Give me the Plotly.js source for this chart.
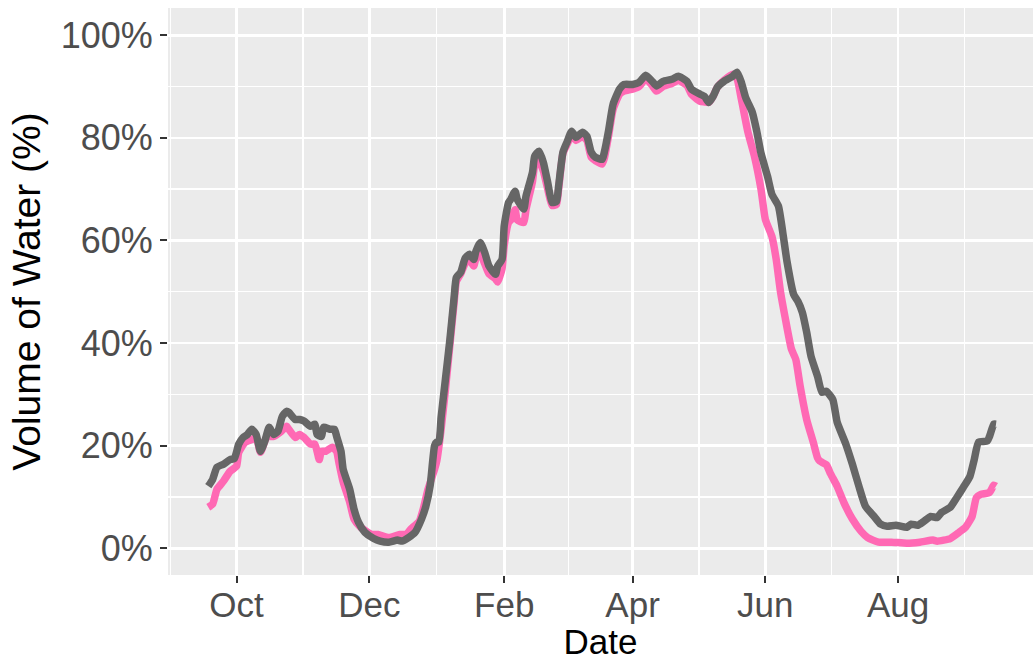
<!DOCTYPE html>
<html>
<head>
<meta charset="utf-8">
<script src="https://cdn.plot.ly/plotly-3.0.1.min.js"></script>
<style>
  html, body { margin: 0; padding: 0; background: #ffffff; }
  #chart { width: 1033px; height: 661px; }
</style>
</head>
<body>
<div id="chart"></div>
<script>
// ---- data ----
const greyDates = [
  '2020-09-18','2020-09-20','2020-09-22','2020-09-25','2020-09-28','2020-09-30','2020-10-02','2020-10-04','2020-10-06','2020-10-08',
  '2020-10-10','2020-10-12','2020-10-14','2020-10-16','2020-10-18','2020-10-20','2020-10-22','2020-10-24','2020-10-25','2020-10-28',
  '2020-10-30','2020-11-01','2020-11-04','2020-11-06','2020-11-07','2020-11-09','2020-11-10','2020-11-13','2020-11-15','2020-11-16',
  '2020-11-18','2020-11-19','2020-11-22','2020-11-24','2020-11-26','2020-11-29','2020-12-03','2020-12-06','2020-12-10','2020-12-14',
  '2020-12-16','2020-12-19','2020-12-22','2020-12-25','2020-12-27','2020-12-29','2020-12-31','2021-01-01','2021-01-02','2021-01-03',
  '2021-01-05','2021-01-07','2021-01-09','2021-01-10','2021-01-12','2021-01-14','2021-01-16','2021-01-18','2021-01-19','2021-01-21',
  '2021-01-23','2021-01-25','2021-01-28','2021-01-29','2021-01-31','2021-02-01','2021-02-03','2021-02-04','2021-02-06','2021-02-07',
  '2021-02-10','2021-02-11','2021-02-14','2021-02-15','2021-02-17','2021-02-19','2021-02-21','2021-02-23','2021-02-25','2021-02-26',
  '2021-02-28','2021-03-02','2021-03-04','2021-03-06','2021-03-09','2021-03-11','2021-03-13','2021-03-15','2021-03-18','2021-03-19',
  '2021-03-21','2021-03-23','2021-03-26','2021-03-28','2021-04-01','2021-04-04','2021-04-07','2021-04-10','2021-04-12','2021-04-15',
  '2021-04-19','2021-04-22','2021-04-26','2021-04-28','2021-05-02','2021-05-04','2021-05-06','2021-05-08','2021-05-10','2021-05-13',
  '2021-05-17','2021-05-19','2021-05-21','2021-05-23','2021-05-26','2021-05-28','2021-05-30','2021-06-02','2021-06-04','2021-06-07',
  '2021-06-09','2021-06-11','2021-06-14','2021-06-16','2021-06-18','2021-06-20','2021-06-22','2021-06-25','2021-06-27','2021-06-29',
  '2021-07-02','2021-07-04','2021-07-08','2021-07-11','2021-07-14','2021-07-17','2021-07-21','2021-07-24','2021-07-27','2021-07-31',
  '2021-08-05','2021-08-07','2021-08-10','2021-08-13','2021-08-16','2021-08-19','2021-08-21','2021-08-25','2021-08-28','2021-08-31',
  '2021-09-03','2021-09-05','2021-09-07','2021-09-11','2021-09-12','2021-09-14','2021-09-15'
];
const greyValues = [
  12.1,13.4,15.8,16.4,17.3,17.5,20.3,21.6,22.2,23.2,
  22.2,18.9,20.9,23.6,22.2,22.8,25.7,26.7,26.5,25.1,
  25.1,24.8,23.8,24.2,22.2,21.8,23.6,23.2,23.2,21.8,
  18.9,15.4,11.5,7.6,5.1,3.1,1.9,1.4,1.2,1.6,
  1.4,2.1,3.1,5.7,8.2,12.3,20.0,20.7,20.7,25.5,
  33.0,40.5,49.0,52.8,53.8,56.5,57.3,56.3,57.9,59.6,
  57.7,55.0,53.4,55.0,56.3,62.8,67.4,68.0,69.6,68.0,
  66.1,68.6,73.3,76.4,77.4,75.2,71.3,67.4,67.6,70.6,
  77.2,79.3,81.3,80.1,81.1,80.3,77.2,76.2,75.8,77.2,
  81.5,86.5,89.5,90.4,90.4,90.8,92.2,91.0,90.1,91.0,
  91.4,92.0,91.0,89.5,88.5,88.1,86.9,88.1,89.9,91.0,
  92.0,92.8,90.8,87.8,85.0,81.4,77.0,72.5,69.0,66.7,
  61.6,55.8,49.5,48.1,46.0,42.1,37.4,33.5,30.4,30.6,
  29.0,24.6,20.3,16.4,12.1,8.2,6.2,4.7,4.3,4.5,
  4.1,4.7,4.5,5.3,6.2,6.0,7.0,8.0,9.9,11.9,
  14.0,17.3,20.7,20.9,21.8,24.2,24.2
];

const pinkDates = [
  '2020-09-18','2020-09-20','2020-09-22','2020-09-25','2020-09-28','2020-10-01','2020-10-02','2020-10-05','2020-10-08','2020-10-10',
  '2020-10-12','2020-10-15','2020-10-18','2020-10-21','2020-10-24','2020-10-25','2020-10-28','2020-10-30','2020-11-01','2020-11-04',
  '2020-11-06','2020-11-08','2020-11-09','2020-11-11','2020-11-14','2020-11-16','2020-11-17','2020-11-19','2020-11-22','2020-11-24',
  '2020-11-27','2020-12-02','2020-12-05','2020-12-10','2020-12-15','2020-12-18','2020-12-20','2020-12-24','2020-12-26','2020-12-28',
  '2020-12-31','2021-01-01','2021-01-03','2021-01-05','2021-01-07','2021-01-09','2021-01-10','2021-01-12','2021-01-14','2021-01-16',
  '2021-01-18','2021-01-19','2021-01-21','2021-01-23','2021-01-25','2021-01-28','2021-01-29','2021-01-31','2021-02-01','2021-02-03',
  '2021-02-04','2021-02-06','2021-02-07','2021-02-10','2021-02-11','2021-02-14','2021-02-15','2021-02-17','2021-02-19','2021-02-21',
  '2021-02-23','2021-02-25','2021-02-26','2021-02-28','2021-03-02','2021-03-04','2021-03-06','2021-03-09','2021-03-11','2021-03-13',
  '2021-03-15','2021-03-18','2021-03-19','2021-03-21','2021-03-23','2021-03-26','2021-03-28','2021-04-01','2021-04-04','2021-04-07',
  '2021-04-10','2021-04-12','2021-04-15','2021-04-19','2021-04-22','2021-04-26','2021-04-28','2021-05-02','2021-05-04','2021-05-06',
  '2021-05-08','2021-05-10','2021-05-13','2021-05-17','2021-05-19','2021-05-21','2021-05-24','2021-05-27','2021-05-30','2021-06-01',
  '2021-06-04','2021-06-06','2021-06-08','2021-06-10','2021-06-13','2021-06-15','2021-06-17','2021-06-20','2021-06-23','2021-06-25',
  '2021-06-26','2021-06-29','2021-07-01','2021-07-04','2021-07-07','2021-07-11','2021-07-15','2021-07-18','2021-07-23','2021-07-29',
  '2021-08-05','2021-08-11','2021-08-17','2021-08-19','2021-08-25','2021-08-29','2021-09-01','2021-09-04','2021-09-06','2021-09-08',
  '2021-09-12','2021-09-14','2021-09-15'
];
const pinkValues = [
  8.0,8.6,11.5,13.1,15.0,16.0,18.7,20.7,21.2,21.6,
  18.7,21.8,21.8,22.6,23.8,23.2,21.6,22.2,21.6,20.3,
  20.3,17.3,18.9,18.9,19.7,18.9,16.8,12.9,9.0,5.7,
  4.1,2.7,2.7,2.1,2.7,2.7,3.7,5.3,8.0,11.5,
  15.4,17.0,23.2,31.0,39.5,48.0,52.0,53.5,55.5,56.3,
  55.0,56.5,57.5,55.5,53.5,52.5,51.9,54.5,59.0,63.5,
  64.0,66.0,64.0,63.5,66.0,71.5,74.5,75.5,73.5,70.0,
  66.8,67.0,70.0,77.0,78.8,80.5,79.5,80.3,79.5,76.2,
  75.5,74.9,76.0,80.5,85.5,88.5,89.1,89.5,90.0,91.5,
  90.2,89.1,90.0,90.6,91.2,90.2,88.5,87.1,87.0,86.9,
  88.1,89.9,91.2,92.4,91.5,87.5,81.1,76.4,70.0,64.1,
  60.8,56.3,49.9,45.2,38.8,36.8,31.6,25.1,20.7,17.6,
  17.0,16.3,14.5,12.1,9.0,5.7,3.3,2.1,1.2,1.2,
  1.0,1.2,1.6,1.4,1.9,3.1,4.1,6.2,9.9,10.5,
  10.9,12.3,12.1
];

const xTickVals = ['2020-10-01','2020-12-01','2021-02-01','2021-04-01','2021-06-01','2021-08-01'];
const xTickText = ['Oct','Dec','Feb','Apr','Jun','Aug'];
const yTickVals = [0,20,40,60,80,100];
const yTickText = ['0%','20%','40%','60%','80%','100%'];

// minor gridlines halfway between the month breaks (as ggplot does)
const majorAll = ['2020-08-01'].concat(xTickVals, ['2021-10-01']);
const xMinor = [];
for (let i = 0; i < majorAll.length - 1; i++) {
  const a = new Date(majorAll[i] + 'T00:00:00Z').getTime();
  const b = new Date(majorAll[i + 1] + 'T00:00:00Z').getTime();
  xMinor.push(new Date((a + b) / 2).toISOString().slice(0, 19).replace('T', ' '));
}

const FONT = 'Liberation Sans, Arial, Helvetica, sans-serif';

const traces = [
  {
    x: pinkDates, y: pinkValues, type: 'scatter', mode: 'lines',
    line: { color: '#FF69B4', width: 7.5, shape: 'spline', smoothing: 0.5 },
    hoverinfo: 'skip', showlegend: false
  },
  {
    x: greyDates, y: greyValues, type: 'scatter', mode: 'lines',
    line: { color: '#666666', width: 7.5, shape: 'spline', smoothing: 0.5 },
    hoverinfo: 'skip', showlegend: false
  }
];

const layout = {
  width: 1033, height: 661,
  paper_bgcolor: '#FFFFFF',
  plot_bgcolor: '#EBEBEB',
  margin: { l: 168, r: 0, t: 8, b: 86, pad: 0 },
  font: { family: FONT, color: '#4D4D4D' },
  xaxis: {
    type: 'date',
    range: ['2020-08-30 12:00', '2021-10-02'],
    tickmode: 'array', tickvals: xTickVals, ticktext: xTickText,
    ticks: 'outside', ticklen: 7, tickwidth: 2, tickcolor: '#333333',
    ticklabelstandoff: -8,
    tickfont: { family: FONT, size: 35, color: '#4D4D4D' },
    showgrid: true, gridcolor: '#FFFFFF', gridwidth: 2.6,
    minor: { tickmode: 'array', tickvals: xMinor, showgrid: true, gridcolor: '#FFFFFF', gridwidth: 1.3, ticks: '' },
    zeroline: false, showline: false,
    title: { text: 'Date', font: { family: FONT, size: 35, color: '#000000' }, standoff: 4 },
    automargin: false, fixedrange: true
  },
  yaxis: {
    range: [-5.2, 105.3],
    tickmode: 'array', tickvals: yTickVals, ticktext: yTickText,
    ticks: 'outside', ticklen: 7, tickwidth: 2, tickcolor: '#333333',
    tickfont: { family: FONT, size: 36, color: '#4D4D4D' },
    showgrid: true, gridcolor: '#FFFFFF', gridwidth: 2.6,
    minor: { tickmode: 'linear', tick0: 10, dtick: 20, showgrid: true, gridcolor: '#FFFFFF', gridwidth: 1.3, ticks: '' },
    zeroline: false, showline: false,
    automargin: false, fixedrange: true
  },
  annotations: [{
    text: 'Volume of Water (%)',
    xref: 'paper', yref: 'paper',
    x: -0.164, y: 0.5, xanchor: 'center', yanchor: 'middle',
    textangle: -90, showarrow: false,
    font: { family: FONT, size: 39, color: '#000000' }
  }]
};

Plotly.newPlot('chart', traces, layout, { staticPlot: true, displayModeBar: false });
</script>
</body>
</html>
